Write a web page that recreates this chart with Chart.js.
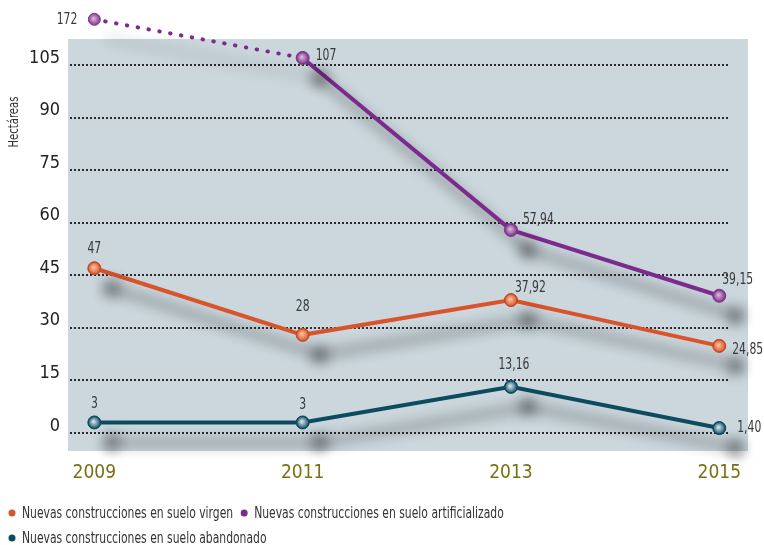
<!DOCTYPE html>
<html>
<head>
<meta charset="utf-8">
<script src="https://cdn.jsdelivr.net/npm/chart.js@4/dist/chart.umd.min.js"></script>
<style>
  html, body { margin: 0; padding: 0; background: #fff; }
</style>
</head>
<body>
<canvas id="chart" width="764" height="545"></canvas>
<script>
const years = ["2009", "2011", "2013", "2015"];
const names = [
    "Nuevas construcciones en suelo virgen",
    "Nuevas construcciones en suelo artificializado",
    "Nuevas construcciones en suelo abandonado"
];
const virgen = [47, 28, 37.92, 24.85];
const artificializado = [172, 107, 57.94, 39.15];
const abandonado = [3, 3, 13.16, 1.40];
const yTicks = [0, 15, 30, 45, 60, 75, 90, 105];

// 172 does not fit the axis: it is drawn at the top, above the break
const axisBreak = 118;

const FONT = '"Liberation Sans Narrow", "Arial Narrow", "DejaVu Sans Condensed", sans-serif';
const NARROW = 0.8; // squeeze for the small texts, the original face is a narrow one
const palette = [
    { line: "#d9542b", light: "#f7c9a4", ring: "#c24a24" },
    { line: "#7b2b8c", light: "#e3bedb", ring: "#7b3b8c" },
    { line: "#0d4c60", light: "#e2eef2", ring: "#0d4c60" }
];

// where each value label sits relative to its point: [dx, dy, align]
const labelPlaces = [
    [[0, -19, "center"], [0, -28, "center"], [4, -12, "left"], [13, 4, "left"]],
    [[-17, 1, "right"], [13, -2, "left"], [12, -10, "left"], [3, -16, "left"]],
    [[0, -18, "center"], [0, -17, "center"], [3, -22, "center"], [18, 0, "left"]]
];

Chart.defaults.font.family = FONT;

function fmt(v) {
    return Number.isInteger(v) ? String(v) : v.toFixed(2).replace(".", ",");
}

function narrowText(ctx, text, x, y, align) {
    ctx.save();
    ctx.translate(x, y);
    ctx.scale(NARROW, 1);
    ctx.textAlign = align;
    ctx.fillText(text, 0, 0);
    ctx.restore();
}

function lineSet(label, values, c0, extra) {
    return Object.assign({
        label: label,
        data: values.map(v => Math.min(v, axisBreak)),
        borderColor: c0.line,
        borderWidth: 4,
        borderCapStyle: "round",
        tension: 0,
        pointRadius: 6.5,
        pointBorderWidth: 1,
        pointBorderColor: c0.ring,
        pointBackgroundColor: c0.line,
        clip: false
    }, extra || {});
}

const backdrop = {
    id: "backdrop",
    beforeDraw(chart) {
        const { ctx, chartArea: a } = chart;
        ctx.save();
        ctx.fillStyle = "#cbd7dd";
        ctx.fillRect(a.left, a.top, a.right - a.left, a.bottom - a.top);
        ctx.restore();
    },
    beforeDatasetsDraw(chart) {
        const { ctx, chartArea: a } = chart;
        const y = chart.scales.y;
        ctx.save();
        ctx.strokeStyle = "#2b2b2b";
        ctx.lineWidth = 2;
        ctx.setLineDash([2, 2]);
        yTicks.forEach(t => {
            const py = Math.round(y.getPixelForValue(t));
            ctx.beginPath();
            ctx.moveTo(a.left + 2, py);
            ctx.lineTo(a.right - 18, py);
            ctx.stroke();
        });
        ctx.restore();
    }
};

// soft drop shadow under lines and points, then a shiny ball on each point
const shadows = {
    id: "shadows",
    beforeDatasetDraw(chart) {
        const ctx = chart.ctx;
        ctx.save();
        ctx.shadowColor = "rgba(25,25,25,0.62)";
        ctx.shadowBlur = 13;
        ctx.shadowOffsetX = 17;
        ctx.shadowOffsetY = 20;
    },
    afterDatasetDraw(chart, args) {
        const ctx = chart.ctx;
        ctx.restore();
        const c0 = palette[args.index];
        ctx.save();
        args.meta.data.forEach(pt => {
            const g = ctx.createRadialGradient(pt.x - 1, pt.y - 1, 0, pt.x, pt.y, 6.5);
            g.addColorStop(0, c0.light);
            g.addColorStop(1, c0.line);
            ctx.fillStyle = g;
            ctx.strokeStyle = c0.ring;
            ctx.lineWidth = 1;
            ctx.beginPath();
            ctx.arc(pt.x, pt.y, 6, 0, Math.PI * 2);
            ctx.fill();
            ctx.stroke();
        });
        ctx.restore();
    }
};

const valueLabels = {
    id: "valueLabels",
    afterDatasetsDraw(chart) {
        const ctx = chart.ctx;
        const raw = [virgen, artificializado, abandonado];
        ctx.save();
        ctx.font = "15px " + FONT;
        ctx.fillStyle = "#383838";
        ctx.textBaseline = "middle";
        raw.forEach((vals, i) => {
            const meta = chart.getDatasetMeta(i);
            meta.data.forEach((pt, j) => {
                const [dx, dy, align] = labelPlaces[i][j];
                narrowText(ctx, fmt(vals[j]), pt.x + dx, pt.y + dy, align);
            });
        });
        ctx.restore();
    }
};

const extras = {
    id: "extras",
    afterDraw(chart) {
        const ctx = chart.ctx;
        ctx.save();
        ctx.fillStyle = "#333";
        ctx.font = "14px " + FONT;
        ctx.translate(14, 122);
        ctx.rotate(-Math.PI / 2);
        ctx.textBaseline = "middle";
        narrowText(ctx, "Hectáreas", 0, 0, "center");
        ctx.restore();

        ctx.save();
        ctx.font = "15px " + FONT;
        ctx.textBaseline = "middle";
        const w0 = ctx.measureText(names[0]).width * NARROW;
        const spots = [[12, 514], [12 + 10 + w0 + 11, 514], [12, 539]];
        names.forEach((n, i) => {
            const [x, y] = spots[i];
            ctx.fillStyle = palette[i].line;
            ctx.beginPath();
            ctx.arc(x, y - 1, 3.5, 0, Math.PI * 2);
            ctx.fill();
            ctx.fillStyle = "#333";
            narrowText(ctx, n, x + 10, y, "left");
        });
        ctx.restore();
    }
};

new Chart(document.getElementById("chart"), {
    type: "line",
    data: {
        labels: years,
        datasets: [
            lineSet(names[0], virgen, palette[0]),
            lineSet(names[1], artificializado, palette[1], {
                segment: {
                    borderDash: c => c.p0DataIndex === 0 ? [0.5, 10.5] : undefined
                }
            }),
            lineSet(names[2], abandonado, palette[2])
        ]
    },
    options: {
        responsive: false,
        animation: false,
        layout: { padding: { top: 39, right: 16, left: 0, bottom: 0 } },
        plugins: {
            legend: { display: false },
            tooltip: { enabled: false }
        },
        scales: {
            x: {
                type: "linear",
                min: 2008.747,
                max: 2015.276,
                grid: { display: false, drawTicks: false },
                border: { display: false },
                afterBuildTicks: s => { s.ticks = years.map(y => ({ value: +y })); },
                afterFit: s => { s.height = 94; },
                ticks: {
                    color: "#7a6f12",
                    font: { size: 19 },
                    padding: 11,
                    maxRotation: 0,
                    autoSkip: false,
                    callback: v => String(v)
                }
            },
            y: {
                min: -5.14,
                max: 112.4,
                grid: { display: false, drawTicks: false },
                border: { display: false },
                afterBuildTicks: s => { s.ticks = yTicks.map(v => ({ value: v })); },
                afterFit: s => { s.width = 68; },
                ticks: {
                    color: "#222",
                    font: { size: 18 },
                    padding: 8,
                    labelOffset: -7
                }
            }
        }
    },
    plugins: [backdrop, shadows, valueLabels, extras]
});
</script>
</body>
</html>
